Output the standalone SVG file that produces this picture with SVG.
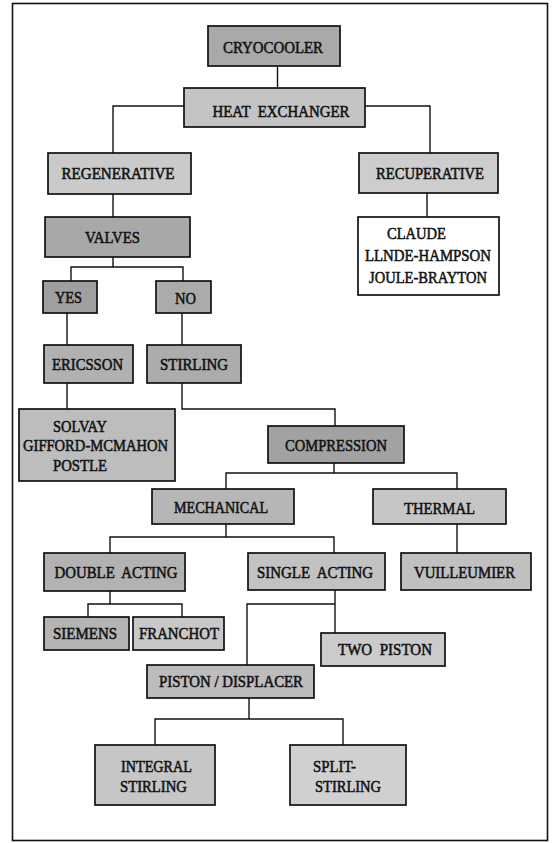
<svg xmlns="http://www.w3.org/2000/svg" width="554" height="843" viewBox="0 0 554 843">
<style>
.b{stroke:#111;stroke-width:1.7}
.t{font-family:"Liberation Serif","Times New Roman",serif;font-size:17px;fill:#111;stroke:#111;stroke-width:0.55;text-anchor:middle}
.c{fill:none;stroke:#111;stroke-width:1.4}
</style>
<rect x="0" y="0" width="554" height="843" fill="#fff"/>
<rect x="12.5" y="3.5" width="535" height="837" fill="none" stroke="#111" stroke-width="1.6"/>
<g id="connectors" class="c">
<path d="M277.5 66V88"/>
<path d="M184 106H113V153"/>
<path d="M365 106H430V153"/>
<path d="M113 194V217"/>
<path d="M427 193V217"/>
<path d="M113 257V267M71 281V267H183V281"/>
<path d="M67 313V345"/>
<path d="M182 313V345"/>
<path d="M67 383V409"/>
<path d="M182 383V409H335V426"/>
<path d="M334 463V473M226 489V473H457V489"/>
<path d="M226 524V537M110 553V537H334V553"/>
<path d="M457 524V553"/>
<path d="M110 591V604M88 617V604H182V617"/>
<path d="M335 590V633M247 665V604H335"/>
<path d="M249 698V719M155 745V719H343V745"/>
</g>
<g id="cryocooler"><rect class="b" x="208" y="26" width="132" height="40" fill="#a9a9a9"/><text class="t" x="273" y="53" font-size="16" textLength="100" lengthAdjust="spacingAndGlyphs">CRYOCOOLER</text></g>
<g id="heat-exchanger"><rect class="b" x="184" y="88" width="181" height="39" fill="#c4c4c4"/><text class="t" x="281" y="117" font-size="16" textLength="137" lengthAdjust="spacingAndGlyphs" xml:space="preserve">HEAT  EXCHANGER</text></g>
<g id="regenerative"><rect class="b" x="48" y="153" width="143" height="41" fill="#cacaca"/><text class="t" x="118" y="179" textLength="113" lengthAdjust="spacingAndGlyphs">REGENERATIVE</text></g>
<g id="recuperative"><rect class="b" x="359" y="153" width="139" height="40" fill="#cdcdcd"/><text class="t" x="430" y="179" textLength="108" lengthAdjust="spacingAndGlyphs">RECUPERATIVE</text></g>
<g id="recuperative-list"><rect class="b" x="358" y="217" width="141" height="78" fill="#fff"/>
<text class="t" x="416.5" y="239" textLength="59" lengthAdjust="spacingAndGlyphs">CLAUDE</text>
<text class="t" x="428" y="261" textLength="126" lengthAdjust="spacingAndGlyphs">LLNDE-HAMPSON</text>
<text class="t" x="428" y="283" textLength="118" lengthAdjust="spacingAndGlyphs">JOULE-BRAYTON</text></g>
<g id="valves"><rect class="b" x="45" y="217" width="145" height="40" fill="#a8a8a8"/><text class="t" x="112.5" y="243" textLength="55" lengthAdjust="spacingAndGlyphs">VALVES</text></g>
<g id="yes"><rect class="b" x="43" y="281" width="54" height="32" fill="#9f9f9f"/><text class="t" x="68.5" y="303" textLength="27" lengthAdjust="spacingAndGlyphs">YES</text></g>
<g id="no"><rect class="b" x="156" y="281" width="55" height="32" fill="#ababab"/><text class="t" x="185.5" y="304" textLength="21" lengthAdjust="spacingAndGlyphs">NO</text></g>
<g id="ericsson"><rect class="b" x="44" y="345" width="89" height="38" fill="#b1b1b1"/><text class="t" x="87.5" y="370" textLength="71" lengthAdjust="spacingAndGlyphs">ERICSSON</text></g>
<g id="stirling"><rect class="b" x="147" y="345" width="94" height="38" fill="#acacac"/><text class="t" x="194" y="370" textLength="68" lengthAdjust="spacingAndGlyphs">STIRLING</text></g>
<g id="solvay"><rect class="b" x="19" y="409" width="156" height="72" fill="#bdbdbd"/>
<text class="t" x="80" y="432" textLength="54" lengthAdjust="spacingAndGlyphs">SOLVAY</text>
<text class="t" x="95.5" y="451" textLength="145" lengthAdjust="spacingAndGlyphs">GIFFORD-MCMAHON</text>
<text class="t" x="80" y="471" textLength="54" lengthAdjust="spacingAndGlyphs">POSTLE</text></g>
<g id="compression"><rect class="b" x="268" y="426" width="136" height="37" fill="#a2a2a2"/><text class="t" x="336" y="451" textLength="102" lengthAdjust="spacingAndGlyphs">COMPRESSION</text></g>
<g id="mechanical"><rect class="b" x="152" y="489" width="142" height="35" fill="#b6b6b6"/><text class="t" x="221" y="513" textLength="94" lengthAdjust="spacingAndGlyphs">MECHANICAL</text></g>
<g id="thermal"><rect class="b" x="373" y="489" width="133" height="35" fill="#c6c6c6"/><text class="t" x="439.5" y="514" textLength="71" lengthAdjust="spacingAndGlyphs">THERMAL</text></g>
<g id="double-acting"><rect class="b" x="44" y="553" width="141" height="38" fill="#b2b2b2"/><text class="t" x="116" y="578" textLength="123" lengthAdjust="spacingAndGlyphs" xml:space="preserve">DOUBLE  ACTING</text></g>
<g id="single-acting"><rect class="b" x="248" y="553" width="137" height="37" fill="#c2c2c2"/><text class="t" x="315" y="578" textLength="116" lengthAdjust="spacingAndGlyphs" xml:space="preserve">SINGLE  ACTING</text></g>
<g id="vuilleumier"><rect class="b" x="401" y="553" width="130" height="37" fill="#c0c0c0"/><text class="t" x="464.5" y="578" textLength="101" lengthAdjust="spacingAndGlyphs">VUILLEUMIER</text></g>
<g id="siemens"><rect class="b" x="44" y="617" width="85" height="33" fill="#b4b4b4"/><text class="t" x="85" y="639" textLength="64" lengthAdjust="spacingAndGlyphs">SIEMENS</text></g>
<g id="franchot"><rect class="b" x="133" y="617" width="91" height="33" fill="#c8c8c8"/><text class="t" x="179" y="639" textLength="80" lengthAdjust="spacingAndGlyphs">FRANCHOT</text></g>
<g id="two-piston"><rect class="b" x="321" y="633" width="124" height="33" fill="#cbcbcb"/><text class="t" x="385" y="655" textLength="94" lengthAdjust="spacingAndGlyphs" xml:space="preserve">TWO  PISTON</text></g>
<g id="piston-displacer"><rect class="b" x="147" y="665" width="167" height="33" fill="#bcbcbc"/><text class="t" x="231" y="687" textLength="144" lengthAdjust="spacingAndGlyphs">PISTON / DISPLACER</text></g>
<g id="integral-stirling"><rect class="b" x="95" y="745" width="120" height="60" fill="#c6c6c6"/>
<text class="t" x="156.5" y="772" textLength="71" lengthAdjust="spacingAndGlyphs">INTEGRAL</text>
<text class="t" x="153.5" y="792" textLength="67" lengthAdjust="spacingAndGlyphs">STIRLING</text></g>
<g id="split-stirling"><rect class="b" x="290" y="745" width="116" height="60" fill="#d0d0d0"/>
<text class="t" x="334.5" y="772" textLength="43" lengthAdjust="spacingAndGlyphs">SPLIT-</text>
<text class="t" x="348" y="792" textLength="66" lengthAdjust="spacingAndGlyphs">STIRLING</text></g>
</svg>
